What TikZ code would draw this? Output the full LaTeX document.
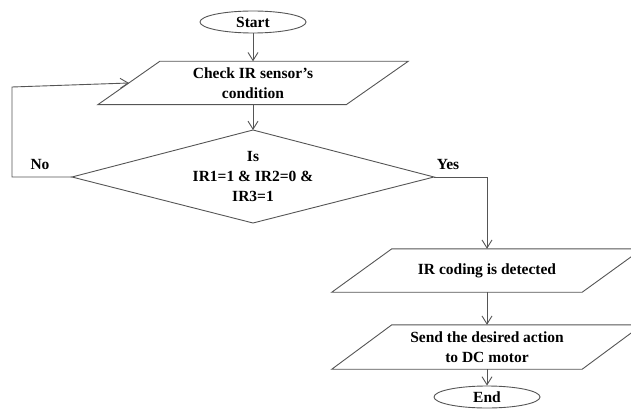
\documentclass[tikz,border=0pt]{standalone}
\usepackage{fontspec}
\setmainfont{Liberation Serif}
\usetikzlibrary{arrows.meta,shapes.geometric}
\definecolor{ln}{RGB}{85,85,85}
\begin{document}
\begin{tikzpicture}[x=1pt,y=-1pt,
  lbl/.style={font=\bfseries\fontsize{15.5}{20}\selectfont, align=center, inner sep=0pt},
  edge/.style={draw=ln, line width=0.9pt},
  arr/.style={edge, -{Straight Barb[length=8pt,width=10pt,line width=0.9pt]}},
  term/.style={lbl, ellipse, draw=ln, line width=0.9pt, minimum width=106pt, minimum height=22pt},
  iobox/.style={lbl, minimum height=43pt}
]
\useasboundingbox (0,0) rectangle (631,409);
\clip (0,0) rectangle (631,409);

\node[term] (start) at (253,22) {Start};

\node[iobox, minimum width=248pt] (chk) at (253,83) {Check IR sensor's\\condition};
\draw[edge] ([xshift=31pt]chk.north west) -- ([xshift=31pt]chk.north east) -- ([xshift=-31pt]chk.south east) -- ([xshift=-31pt]chk.south west) -- cycle;

\node[lbl] (dec) at (253,176) {Is\\IR1=1 \& IR2=0 \&\\IR3=1};
\coordinate (dN) at (253,130);
\coordinate (dS) at (253,223);
\coordinate (dW) at (72,177);
\coordinate (dE) at (434,177);
\draw[edge] (dN) -- (dE) -- (dS) -- (dW) -- cycle;

\node[iobox, minimum width=250pt] (ir) at (487,270.5) {IR coding is detected};
\draw[edge] ([xshift=30pt]ir.north west) -- ([xshift=30pt]ir.north east) -- ([xshift=-30pt]ir.south east) -- ([xshift=-30pt]ir.south west) -- cycle;

\node[iobox, minimum width=250pt, minimum height=44pt] (send) at (487,347) {Send the desired action\\to DC motor};
\draw[edge] ([xshift=30pt]send.north west) -- ([xshift=30pt]send.north east) -- ([xshift=-30pt]send.south east) -- ([xshift=-30pt]send.south west) -- cycle;

\node[term] (end) at (487,397) {End};

\node[lbl] (no) at (40,164) {No};
\node[lbl] (yes) at (448,164) {Yes};

\coordinate (nl) at (12,177);
\coordinate (nt) at (12,87);
\coordinate (nin) at (129,83);
\coordinate (yc) at (487,177);

\draw[arr] (start) -- (chk.north);
\draw[arr] (chk.south) -- (dN);
\draw[arr] (dW) -- (nl) -- (nt) -- (nin);
\draw[arr] (dE) -- (yc) -- (ir.north);
\draw[arr] (ir.south) -- (send.north);
\draw[arr] (send.south) -- (end.north);
\end{tikzpicture}
\end{document}
